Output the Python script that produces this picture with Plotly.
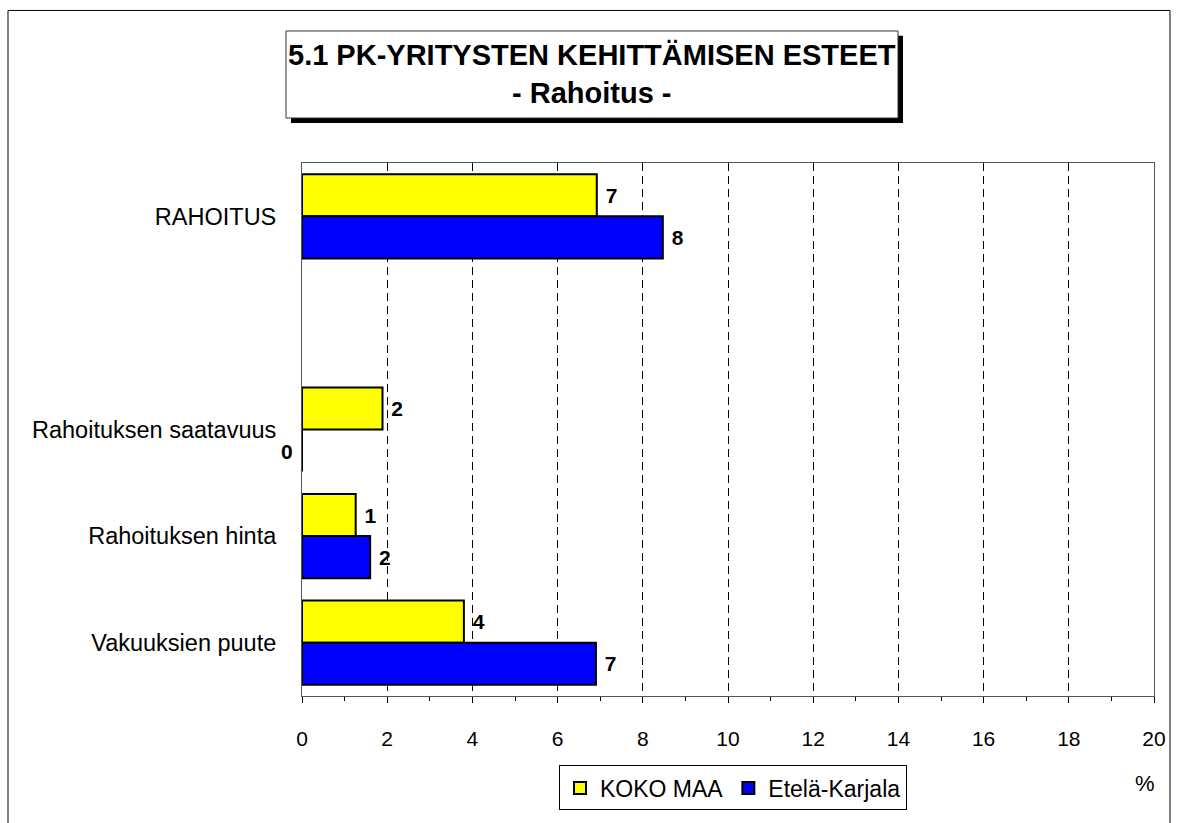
import plotly.graph_objects as go

categories = ["RAHOITUS", " ", "Rahoituksen saatavuus", "Rahoituksen hinta", "Vakuuksien puute"]
koko_maa = [6.92, None, 1.89, 1.26, 3.8]
etela_karjala = [8.47, None, 0.0, 1.6, 6.9]
series_names = ["KOKO MAA", "Etelä-Karjala"]
x_ticks = list(range(0, 21, 2))

W, H = 1178, 823
L, R, T, B = 302, 1154, 163, 708  # plot area pixel box


def px(x):
    return (x - L) / (R - L)


def py(y):
    return (B - y) / (B - T)


FONT = "Arial, Liberation Sans, sans-serif"


def labels(vals):
    return ["" if (v is None or round(v) == 0) else " %d" % round(v) for v in vals]


fig = go.Figure()
for name, vals, col in [(series_names[0], koko_maa, "#FFFF00"), (series_names[1], etela_karjala, "#0000FF")]:
    fig.add_trace(go.Bar(
        y=categories, x=vals, name=name, orientation="h",
        marker=dict(color=col, line=dict(color="black", width=2)),
        text=labels(vals), textposition="outside", cliponaxis=False,
        textfont=dict(family=FONT, size=21, color="black", weight="bold"),
    ))

annotations = []
# zero-valued labels sit left of the axis
for i, (c, v) in enumerate(zip(categories, etela_karjala)):
    if v is not None and round(v) == 0:
        annotations.append(dict(x=0, y=c, xref="x", yref="y", text="<b>0</b>", showarrow=False,
                                xanchor="right", yanchor="middle", yshift=-22, xshift=-7,
                                font=dict(family=FONT, size=21, color="black")))
annotations.append(dict(x=px(1145), y=py(797), xref="paper", yref="paper", text="%", showarrow=False,
                        xanchor="center", yanchor="middle",
                        font=dict(family=FONT, size=22, color="black")))
annotations.append(dict(x=(px(286) + px(898)) / 2, y=(py(28) + py(117)) / 2, xref="paper", yref="paper",
                        text="<b>5.1 PK-YRITYSTEN KEHITTÄMISEN ESTEET</b><br><b>- Rahoitus -</b>",
                        showarrow=False, align="center", xanchor="center", yanchor="middle",
                        font=dict(family=FONT, size=29, color="black")))

frame = dict(color="black", width=1)
shapes = [
    dict(type="line", xref="paper", yref="paper", x0=px(8), x1=px(8), y0=py(7), y1=py(900), line=frame),
    dict(type="line", xref="paper", yref="paper", x0=px(8), x1=px(1170), y0=py(7), y1=py(7), line=frame),
    dict(type="line", xref="paper", yref="paper", x0=px(1170), x1=px(1170), y0=py(7), y1=py(900), line=frame),
    dict(type="rect", xref="paper", yref="paper", x0=px(291), x1=px(903), y0=py(33), y1=py(122),
         line=dict(width=0), fillcolor="black"),
    dict(type="rect", xref="paper", yref="paper", x0=px(286), x1=px(898), y0=py(28), y1=py(117),
         line=dict(color="#333333", width=1), fillcolor="white"),
]

fig.update_layout(
    width=W, height=H,
    margin=dict(l=L, r=W - R, t=T, b=H - B, pad=0),
    paper_bgcolor="white", plot_bgcolor="white",
    barmode="group", bargap=0.21, bargroupgap=0,
    font=dict(family=FONT, size=22, color="black"),
    showlegend=True,
    legend=dict(orientation="h", x=px(559), y=py(779), xanchor="left", yanchor="top",
                bordercolor="black", borderwidth=1, bgcolor="white",
                font=dict(family=FONT, size=23, color="black"), itemwidth=30,
                traceorder="normal"),
    annotations=annotations,
    shapes=shapes,
    xaxis=dict(range=[0, 20], tickvals=x_ticks, showgrid=True, gridcolor="black", gridwidth=1,
               griddash="8px,5px", showline=True, linecolor="#555555", linewidth=1, mirror=True,
               ticks="outside", ticklen=6, tickcolor="black", ticklabelstandoff=18,
               tickfont=dict(family=FONT, size=21), zeroline=False,
               minor=dict(dtick=1, ticks="outside", ticklen=4, tickcolor="black", showgrid=False)),
    yaxis=dict(categoryorder="array", categoryarray=categories, range=[4.5, -0.5],
               showline=True, linecolor="#555555", linewidth=1, mirror=True, ticks="",
               ticklabelstandoff=20, tickfont=dict(family=FONT, size=23.5), showgrid=False),
)

fig.write_html("out.html", config={"displayModeBar": False},
               post_script="document.body.style.margin='0';")
